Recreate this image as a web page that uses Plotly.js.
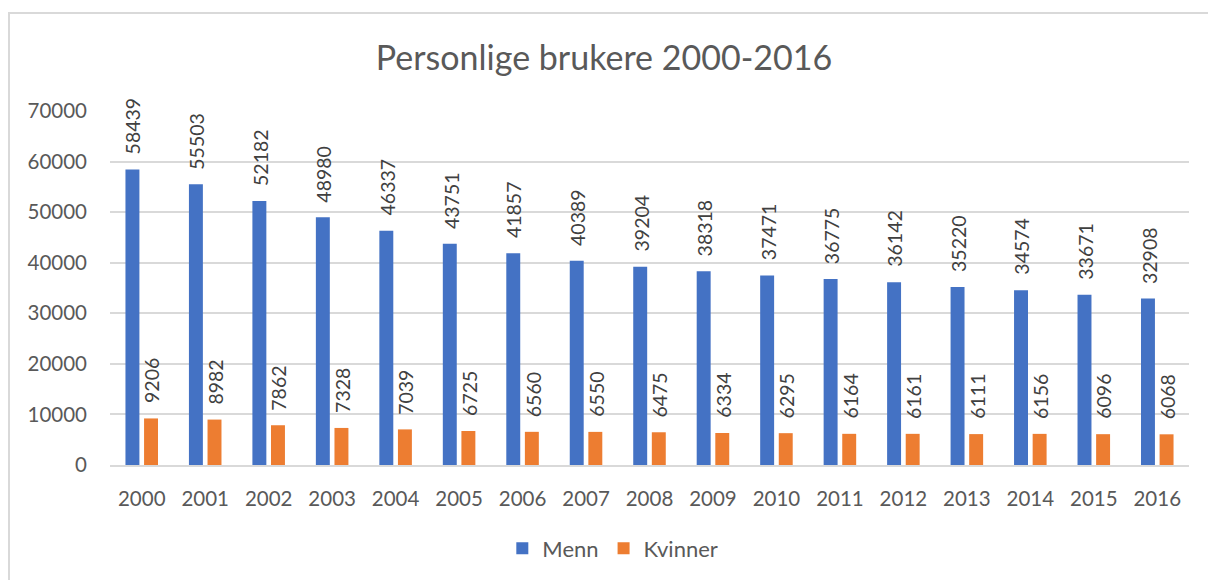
<!DOCTYPE html>
<html>
<head>
<meta charset="utf-8">
<script src="https://cdn.plot.ly/plotly-3.0.1.min.js"></script>
<style>
html, body { margin: 0; padding: 0; background: #fff; overflow: hidden; }
#chart { width: 1208px; height: 580px; }
#frame { position: absolute; left: 8px; top: 12px; width: 1300px; height: 700px; border: 2px solid #d9d9d9; pointer-events: none; box-sizing: border-box; }
</style>
</head>
<body>
<div id="chart"></div>
<div id="frame"></div>
<script>
const years = ["2000","2001","2002","2003","2004","2005","2006","2007","2008","2009","2010","2011","2012","2013","2014","2015","2016"];
const menn = [58439,55503,52182,48980,46337,43751,41857,40389,39204,38318,37471,36775,36142,35220,34574,33671,32908];
const kvinner = [9206,8982,7862,7328,7039,6725,6560,6550,6475,6334,6295,6164,6161,6111,6156,6096,6068];
const yTicks = [0,10000,20000,30000,40000,50000,60000,70000];

const FONT = "Lato, 'Open Sans', sans-serif";
const TXT = "#595959";
const BLUE = "#4472C4";
const ORANGE = "#ED7D31";

const traces = [
  { type: "bar", name: "Menn", x: years, y: menn, marker: { color: BLUE }, hoverinfo: "x+y" },
  { type: "bar", name: "Kvinner", x: years, y: kvinner, marker: { color: ORANGE }, hoverinfo: "x+y" }
];

const annotations = [];
function addLabels(vals, shift) {
  vals.forEach((v, i) => {
    annotations.push({
      x: i, y: v, xref: "x", yref: "y",
      text: String(v), showarrow: false, textangle: -90,
      xanchor: "center", yanchor: "bottom",
      xshift: shift, yshift: 13,
      font: { family: FONT, size: 19.5, color: "#404040" }
    });
  });
}
addLabels(menn, -8.3);
addLabels(kvinner, 10.3);

const layout = {
  width: 1208, height: 580,
  margin: { l: 110, r: 19, t: 111, b: 114 },
  paper_bgcolor: "#fff", plot_bgcolor: "#fff",
  font: { family: FONT, color: TXT },
  title: { text: "Personlige brukere 2000-2016", font: { family: FONT, size: 34, color: TXT }, x: 0.5, xanchor: "center", y: 0.9, yanchor: "middle", yref: "container" },
  barmode: "group", bargap: 0.414, bargroupgap: 0.25,
  xaxis: { type: "category", range: [-0.5, 16.5], tickfont: { size: 20.5, color: TXT }, showgrid: false, showline: true, linecolor: "#d9d9d9", linewidth: 2, ticks: "", ticklabelstandoff: 14, fixedrange: true },
  yaxis: { range: [0, 70000], tickvals: yTicks, ticktext: yTicks.map(String), tickfont: { size: 20.5, color: TXT }, showgrid: true, gridcolor: "#d9d9d9", gridwidth: 2, zeroline: false, showline: false, ticks: "", ticklabelstandoff: 22, fixedrange: true },
  showlegend: true,
  legend: { orientation: "h", x: 0.466, xanchor: "center", y: -0.232, yanchor: "middle", font: { size: 22, color: TXT }, itemwidth: 30, traceorder: "normal" },
  annotations: annotations
};

Plotly.newPlot("chart", traces, layout, { displayModeBar: false, staticPlot: true });
</script>
</body>
</html>
